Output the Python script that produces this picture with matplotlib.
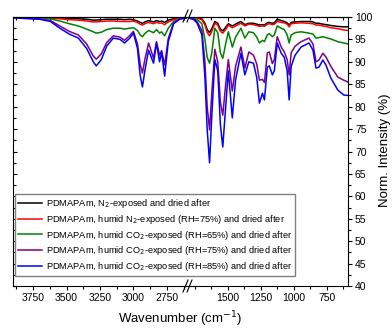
import numpy as np
from matplotlib import pyplot as plt

plt.rcParams['font.family'] = ['Liberation Sans', 'DejaVu Sans']

# wavenumber grids (cm-1) for the two halves of the broken axis
wn_high = [3900, 3700, 3620, 3550, 3480, 3412, 3350, 3300, 3278, 3240,
           3200, 3150, 3100, 3067, 3030, 3000, 2970, 2950, 2933, 2915,
           2887, 2850, 2828, 2805, 2790, 2767, 2740, 2700, 2650, 2600]
wn_low = [1800, 1760, 1732, 1695, 1672, 1655, 1637, 1620, 1597, 1575,
          1555, 1537, 1515, 1495, 1465, 1440, 1400, 1370, 1340, 1305,
          1280, 1260, 1237, 1222, 1200, 1185, 1162, 1147, 1125, 1095,
          1072, 1050, 1035, 1020, 990, 945, 885, 855, 832, 810,
          780, 757, 720, 667, 622, 590]

# normalised intensity (%)
n2_high = [100, 100, 99.9, 99.8, 99.7, 99.6, 99.5, 99.3, 99.3, 99.4,
           99.5, 99.5, 99.5, 99.4, 99.5, 99.4, 99.1, 98.8, 98.6, 98.9,
           99.2, 98.9, 99.2, 99.0, 99.1, 98.8, 99.3, 99.6, 99.9, 100]
n2_low = [100, 100, 99.9, 99.6, 98.6, 97.2, 96.5, 97.4, 99.0, 98.6,
          97.3, 96.9, 97.7, 98.5, 98.0, 98.4, 99.0, 98.3, 98.6, 98.6,
          98.4, 98.2, 98.3, 98.2, 98.7, 98.8, 98.6, 98.7, 99.5, 99.2,
          99.0, 98.7, 98.2, 98.8, 98.9, 99.0, 99.0, 98.9, 98.6, 98.6,
          98.4, 98.3, 98.1, 97.9, 97.8, 97.8]

hn2_high = [100, 99.9, 99.8, 99.6, 99.4, 99.3, 99.1, 98.9, 98.9, 99.0,
            99.1, 99.1, 99.0, 99.0, 99.0, 99.1, 98.8, 98.4, 98.2, 98.5,
            98.8, 98.5, 98.8, 98.6, 98.7, 98.3, 98.9, 99.4, 99.8, 99.9]
hn2_low = [100, 99.9, 99.8, 99.4, 98.2, 96.6, 95.8, 96.8, 98.6, 98.2,
           96.8, 96.4, 97.2, 98.2, 97.6, 98.0, 98.6, 98.0, 98.4, 98.3,
           98.1, 97.9, 98.0, 97.9, 98.4, 98.5, 98.3, 98.4, 99.0, 98.8,
           98.7, 98.4, 97.8, 98.5, 98.6, 98.7, 98.6, 98.5, 98.2, 98.2,
           98.0, 97.9, 97.6, 97.4, 97.1, 97.0]

co2_65_high = [100, 99.9, 99.6, 99.1, 98.5, 98.0, 97.3, 96.7, 96.4, 96.6,
               97.2, 97.5, 97.5, 97.3, 97.5, 97.6, 97.0, 96.0, 95.6, 96.3,
               97.0, 96.5, 97.2, 96.4, 96.7, 95.8, 97.5, 99.0, 99.6, 99.8]
co2_65_low = [100, 99.8, 99.5, 98.5, 95.0, 91.0, 89.7, 92.0, 97.5, 96.5,
              92.0, 90.8, 94.0, 96.7, 93.3, 95.5, 97.5, 95.3, 96.7, 96.5,
              95.5, 94.2, 94.8, 94.5, 96.0, 96.3, 95.6, 96.0, 98.0, 97.5,
              97.2, 96.0, 94.2, 96.0, 96.5, 96.7, 96.4, 96.2, 95.3, 95.4,
              95.6, 95.4, 95.1, 94.5, 94.2, 94.0]

co2_75_high = [99.8, 99.6, 99.2, 98.0, 96.8, 96.0, 94.0, 91.3, 90.6, 91.8,
               94.3, 95.8, 95.5, 94.8, 95.8, 96.8, 94.0, 89.5, 87.5, 90.5,
               94.2, 90.8, 94.5, 91.5, 92.5, 89.3, 95.2, 98.7, 99.6, 99.8]
co2_75_low = [99.8, 99.6, 99.0, 97.0, 90.0, 80.0, 74.8, 83.0, 92.8, 90.0,
              81.0, 78.1, 85.0, 90.5, 83.5, 89.0, 93.3, 88.6, 92.2, 91.5,
              89.5, 85.9, 86.1, 85.4, 92.0, 92.2, 89.6, 90.6, 95.6, 93.3,
              92.2, 90.5, 87.1, 92.0, 93.5, 94.5, 95.3, 94.0, 90.0, 90.4,
              91.9, 91.1, 89.0, 86.6, 85.9, 85.5]

co2_85_high = [99.8, 99.5, 99.0, 97.5, 96.2, 95.3, 93.0, 90.0, 89.1, 90.5,
               93.5, 95.3, 95.0, 94.2, 95.2, 96.4, 93.0, 87.0, 84.4, 88.0,
               92.6, 89.7, 94.2, 90.0, 92.2, 86.8, 94.5, 98.5, 99.6, 99.8]
co2_85_low = [99.8, 99.5, 98.7, 96.0, 86.6, 75.0, 67.5, 78.0, 90.5, 88.0,
              76.0, 71.0, 80.0, 88.0, 77.5, 86.0, 91.9, 87.1, 90.0, 89.7,
              86.5, 80.8, 83.0, 81.5, 88.8, 89.1, 87.1, 88.0, 94.2, 91.9,
              91.0, 88.0, 81.5, 89.0, 91.5, 93.3, 94.2, 92.6, 88.6, 88.8,
              90.4, 89.3, 86.4, 83.7, 82.6, 82.5]

labels = ['PDMAPAm, N$_2$-exposed and dried after',
          'PDMAPAm, humid N$_2$-exposed (RH=75%) and dried after',
          'PDMAPAm, humid CO$_2$-exposed (RH=65%) and dried after',
          'PDMAPAm, humid CO$_2$-exposed (RH=75%) and dried after',
          'PDMAPAm, humid CO$_2$-exposed (RH=85%) and dried after']
colors = ['black', 'red', 'green', 'purple', 'blue']
high = [n2_high, hn2_high, co2_65_high, co2_75_high, co2_85_high]
low = [n2_low, hn2_low, co2_65_low, co2_75_low, co2_85_low]

fig = plt.figure(figsize=(3.92, 3.3), dpi=100)
H, W = 330, 392
bottom = 1 - 286 / H
height = (286 - 17) / H
ax1 = fig.add_axes([13 / W, bottom, 174 / W, height])
ax2 = fig.add_axes([188 / W, bottom, 160 / W, height])

handles = []
for c, lab, yh, yl in zip(colors, labels, high, low):
    h, = ax1.plot(wn_high, yh, color=c, lw=1.1, label=lab)
    ax2.plot(wn_low, yl, color=c, lw=1.1)
    handles.append(h)

ax1.set_xlim(3900, 2600)
ax2.set_xlim(1800, 590)
for ax in (ax1, ax2):
    ax.set_ylim(40, 100)
    for s in ax.spines.values():
        s.set_linewidth(0.8)

ax1.spines['right'].set_visible(False)
ax2.spines['left'].set_visible(False)

ax1.set_xticks(np.arange(3750, 2700, -250))
ax1.set_xticks(np.arange(3875, 2600, -125), minor=True)
ax2.set_xticks(np.arange(1500, 700, -250))
ax2.set_xticks(np.arange(1750, 590, -125), minor=True)

for ax in (ax1, ax2):
    ax.tick_params(axis='x', which='both', direction='out', labelsize=7.5,
                   pad=2, top=False)
    ax.tick_params(axis='x', which='major', length=3, width=0.8)
    ax.tick_params(axis='x', which='minor', length=1.8, width=0.8)
    ax.set_yticks(np.arange(40, 101, 5))
    ax.set_yticks(np.arange(40, 100, 2.5), minor=True)
    # inward ticks along the top edge
    top = ax.secondary_xaxis('top')
    top.set_xticks(ax.get_xticks())
    top.set_xticks(ax.get_xticks(minor=True), minor=True)
    top.tick_params(which='both', direction='in', labeltop=False, width=0.8)
    top.tick_params(which='major', length=3)
    top.tick_params(which='minor', length=1.8)
    top.spines['top'].set_linewidth(0.8)

ax1.tick_params(axis='y', which='both', direction='in', left=True,
                right=False, labelleft=False, width=0.8)
ax1.tick_params(axis='y', which='major', length=3)
ax1.tick_params(axis='y', which='minor', length=1.8)
ax2.tick_params(axis='y', which='both', direction='out', left=False,
                right=True, labelleft=False, labelright=True, labelsize=7.5,
                pad=2, width=0.8)
ax2.tick_params(axis='y', which='major', length=3)
ax2.tick_params(axis='y', which='minor', length=1.8)

# break marks on the axis
for y0 in (16, 286):
    for dx in (-2.5, 1.5):
        x = 188 + dx
        fig.add_artist(plt.Line2D([(x - 2.5) / W, (x + 2.5) / W],
                                  [1 - (y0 + 6) / H, 1 - (y0 - 6) / H],
                                  color='black', lw=0.8))

fig.legend(handles, labels, loc='lower left',
           bbox_to_anchor=(15 / W, 1 - 276 / H), fontsize=6.7,
           fancybox=False, edgecolor='gray', framealpha=1,
           handlelength=2.6, handletextpad=0.4, labelspacing=0.3,
           borderpad=0.3, borderaxespad=0)

fig.text(180 / W, 1 - 319 / H, 'Wavenumber (cm$^{-1}$)', ha='center',
         va='center', fontsize=9.5)
fig.text(385 / W, 1 - 150 / H, 'Norm. Intensity (%)', rotation=90,
         ha='center', va='center', fontsize=9.5)

plt.savefig('out.png', dpi=100)
